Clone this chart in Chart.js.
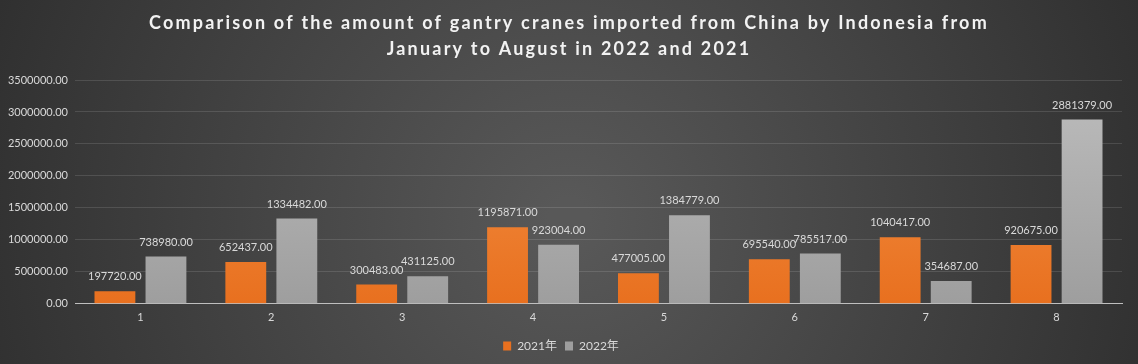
<!DOCTYPE html>
<html>
<head>
<meta charset="utf-8">
<script src="https://cdn.jsdelivr.net/npm/chart.js@4"></script>
<style>
  html, body { margin: 0; padding: 0; background: #3a3a3a; }
  #wrap { width: 1138px; height: 364px; position: relative; }
</style>
</head>
<body>
<div id="wrap"><canvas id="craneChart"></canvas></div>
<script>
// === DATOS ===
const months = ['1', '2', '3', '4', '5', '6', '7', '8'];
const values2021 = [197720, 652437, 300483, 1195871, 477005, 695540, 1040417, 920675];
const values2022 = [738980, 1334482, 431125, 923004, 1384779, 785517, 354687, 2881379];
const seriesNames = ['2021年', '2022年'];
const titleLines = [
    'Comparison of the amount of gantry cranes imported from China by Indonesia from',
    'January to August in 2022 and 2021'
];

const FONT = "Lato, 'Noto Sans CJK SC', sans-serif";

// fondo radial oscuro
const bgPlugin = {
    id: 'bgRadial',
    beforeDraw(chart) {
        const { ctx, width, height } = chart;
        const g = ctx.createRadialGradient(width / 2, height * 0.6, 20, width / 2, height * 0.6, width * 0.6);
        g.addColorStop(0, '#585858');
        g.addColorStop(1, '#2b2b2b');
        ctx.save();
        ctx.fillStyle = g;
        ctx.fillRect(0, 0, width, height);
        ctx.restore();
    }
};

// título con espaciado entre letras (el plugin de título no lo permite)
const titlePlugin = {
    id: 'spacedTitle',
    afterDraw(chart) {
        const { ctx, width } = chart;
        ctx.save();
        ctx.font = 'bold 18px ' + FONT;
        ctx.letterSpacing = '2.2px';
        ctx.fillStyle = '#f2f2f2';
        ctx.textAlign = 'center';
        ctx.textBaseline = 'middle';
        titleLines.forEach((line, i) => ctx.fillText(line, width / 2, 23 + i * 26));
        ctx.restore();
    }
};

// etiquetas sobre las barras
const labelPlugin = {
    id: 'barLabels',
    afterDatasetsDraw(chart) {
        const { ctx } = chart;
        ctx.save();
        ctx.font = '11px ' + FONT;
        ctx.fillStyle = '#d9d9d9';
        ctx.textAlign = 'center';
        ctx.textBaseline = 'bottom';
        chart.data.datasets.forEach((ds, i) => {
            chart.getDatasetMeta(i).data.forEach((bar, j) => {
                ctx.fillText(ds.data[j].toFixed(2), bar.x, bar.y - 9);
            });
        });
        ctx.restore();
    }
};

function barGradient(top, bottom) {
    return context => {
        const { ctx, chartArea } = context.chart;
        if (!chartArea) return top;
        const g = ctx.createLinearGradient(0, chartArea.top, 0, chartArea.bottom);
        g.addColorStop(0, top);
        g.addColorStop(1, bottom);
        return g;
    };
}

const ctx = document.getElementById('craneChart').getContext('2d');
new Chart(ctx, {
    type: 'bar',
    data: {
        labels: months,
        datasets: [{
            label: seriesNames[0],
            data: values2021,
            backgroundColor: barGradient('#f5954a', '#e8701f'),
            categoryPercentage: 0.78,
            barPercentage: 0.8
        }, {
            label: seriesNames[1],
            data: values2022,
            backgroundColor: barGradient('#bdbdbd', '#9e9e9e'),
            categoryPercentage: 0.78,
            barPercentage: 0.8
        }]
    },
    options: {
        responsive: true,
        maintainAspectRatio: false,
        animation: false,
        layout: { padding: { left: 0, right: 16, top: 80, bottom: 2 } },
        plugins: {
            title: { display: false },
            legend: {
                position: 'bottom',
                labels: {
                    color: '#d9d9d9',
                    boxWidth: 8,
                    boxHeight: 9,
                    padding: 8,
                    font: { family: FONT, size: 12 }
                }
            },
            tooltip: { enabled: false }
        },
        scales: {
            x: {
                grid: { display: false },
                border: { color: '#bfbfbf' },
                afterFit: axis => { axis.height += 9; },
                ticks: { color: '#d9d9d9', padding: -1, font: { family: FONT, size: 11 } }
            },
            y: {
                min: 0,
                max: 3500000,
                afterFit: axis => { axis.width = 75; },
                grid: { color: 'rgba(255,255,255,0.12)', drawTicks: false },
                border: { display: false },
                ticks: {
                    stepSize: 500000,
                    padding: 7,
                    color: '#d9d9d9',
                    font: { family: FONT, size: 11 },
                    callback: value => value.toFixed(2)
                }
            }
        }
    },
    plugins: [bgPlugin, titlePlugin, labelPlugin]
});
</script>
</body>
</html>
